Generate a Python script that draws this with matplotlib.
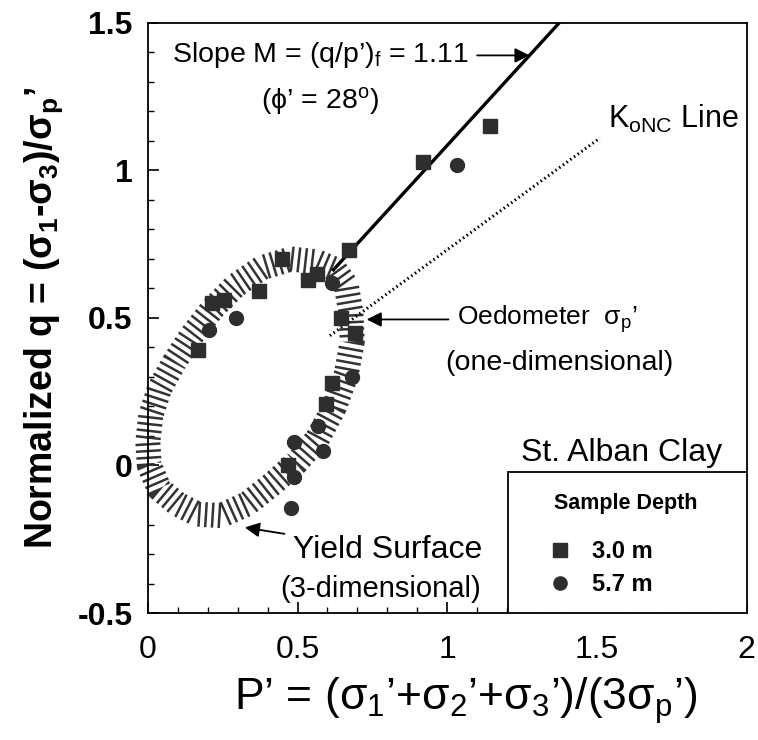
import numpy as np
import matplotlib
matplotlib.use('Agg')
import matplotlib.pyplot as plt
from matplotlib.ticker import MultipleLocator
from matplotlib.patches import Rectangle

plt.rcParams['font.family'] = ['Liberation Sans', 'DejaVu Sans']
plt.rcParams['mathtext.fontset'] = 'custom'
plt.rcParams['mathtext.rm'] = 'Liberation Sans'
plt.rcParams['mathtext.it'] = 'Liberation Sans:italic'
plt.rcParams['mathtext.bf'] = 'Liberation Sans:bold'

# superficie de fluencia
yield_p = [0.478, 0.566, 0.624, 0.663, 0.678, 0.683, 0.663, 0.624, 0.566, 0.497, 0.419, 0.332,
           0.244, 0.166, 0.098, 0.039, 0.005, 0.0, 0.01, 0.039, 0.088, 0.146, 0.215, 0.293, 0.38, 0.478]
yield_q = [0.70, 0.69, 0.665, 0.61, 0.52, 0.42, 0.31, 0.20, 0.09, 0.01, -0.06, -0.13,
           -0.17, -0.165, -0.13, -0.08, 0.0, 0.08, 0.17, 0.26, 0.35, 0.44, 0.53, 0.61, 0.67, 0.70]

# muestras 3.0 m (cuadrados)
sq_p = [0.166, 0.215, 0.254, 0.37, 0.449, 0.536, 0.566, 0.673, 0.644, 0.692, 0.614, 0.595, 0.468, 0.92, 1.144]
sq_q = [0.39, 0.55, 0.56, 0.59, 0.70, 0.63, 0.65, 0.73, 0.50, 0.45, 0.28, 0.21, 0.00, 1.03, 1.15]

# muestras 5.7 m (circulos)
ci_p = [0.293, 0.205, 0.614, 0.683, 0.57, 0.488, 0.585, 0.488, 0.478, 1.032]
ci_q = [0.50, 0.46, 0.62, 0.30, 0.135, 0.08, 0.05, -0.04, -0.145, 1.02]

# linea de falla (pendiente M) y linea KoNC
M = 1.11
falla_p = [0.62, 1.42]
falla_q = [M * p - 0.025 for p in falla_p]
konc_p = [0.608, 1.51]
konc_q = [0.44, 1.11]

fig = plt.figure(figsize=(7.58, 7.40), dpi=100)
ax = fig.add_axes([0.195, 0.1716, 0.790, 0.7974])

ax.plot(yield_p, yield_q, color='#333333', lw=18, dashes=(0.1, 0.17),
        dash_capstyle='butt', solid_capstyle='butt', clip_on=False, zorder=2)

ax.plot(falla_p, falla_q, color='black', lw=2.4, zorder=3)
ax.plot(konc_p, konc_q, color='black', lw=2.2, linestyle=(0, (0.5, 1.0)), zorder=3)

ax.plot(sq_p, sq_q, 's', color='#2e2e2e', markersize=10, linestyle='none',
        label='3.0 m', zorder=4)
ax.plot(ci_p, ci_q, 'o', color='#2e2e2e', markersize=10, linestyle='none',
        label='5.7 m', zorder=4)

ax.set_xlim(0, 2)
ax.set_ylim(-0.5, 1.5)
ax.xaxis.set_minor_locator(MultipleLocator(0.1))
ax.yaxis.set_minor_locator(MultipleLocator(0.1))
ax.set_xticks([0, 0.5, 1, 1.5, 2])
ax.set_xticklabels(['0', '0.5', '1', '1.5', '2'], fontsize=23)
ax.set_yticks([-0.5, 0, 0.5, 1, 1.5])
ax.set_yticklabels(['-0.5', '0', '0.5', '1', '1.5'], fontsize=23, fontweight='bold')
ax.tick_params(which='major', direction='in', length=8, width=1.2)
ax.tick_params(which='minor', direction='in', length=4.5, width=1.0)
ax.tick_params(axis='x', pad=16)
ax.tick_params(axis='y', pad=11)
for s in ax.spines.values():
    s.set_linewidth(1.3)

ax.set_xlabel('P\u2019 = (σ$_\\mathregular{1}$\u2019+σ$_\\mathregular{2}$\u2019+σ$_\\mathregular{3}$\u2019)/(3σ$_\\mathregular{p}$\u2019)',
              fontsize=32, labelpad=7, x=0.53)
ax.set_ylabel('Normalized q = (σ$_\\mathregular{1}$-σ$_\\mathregular{3}$)/σ$_\\mathregular{p}$\u2019',
              fontsize=27, fontweight='bold', labelpad=9)

# anotaciones
flecha = dict(arrowstyle='-|>', color='black', lw=1.3, shrinkA=4, shrinkB=0, mutation_scale=22)
ax.annotate('Slope M = (q/p\u2019)$_\\mathregular{f}$ = 1.11', xy=(1.275, 1.39), xytext=(0.08, 1.39),
            fontsize=20.5, va='center', ha='left', arrowprops=flecha)
ax.text(0.574, 1.237, '(ϕ\u2019 = 28$^\\mathregular{o}$)', fontsize=20.5, ha='center', va='center')
ax.text(1.536, 1.176, 'K$_\\mathregular{oNC}$ Line', fontsize=22, ha='left', va='center')
ax.annotate('Oedometer  σ$_\\mathregular{p}$\u2019', xy=(0.731, 0.495), xytext=(1.032, 0.495),
            fontsize=19, va='center', ha='left', arrowprops=flecha)
ax.text(1.376, 0.346, '(one-dimensional)', fontsize=20.5, ha='center', va='center')
ax.annotate('Yield Surface', xy=(0.324, -0.21), xytext=(0.484, -0.288),
            fontsize=23, va='center', ha='left', arrowprops=flecha)
ax.text(0.441, -0.417, '(3-dimensional)', fontsize=21, ha='left', va='center')
ax.text(1.583, 0.044, 'St. Alban Clay', fontsize=23, ha='center', va='center')

# recuadro de leyenda
ax.add_patch(Rectangle((0.601, 0.0), 0.399, 0.239, transform=ax.transAxes,
                       facecolor='white', edgecolor='black', lw=1.3, zorder=5))
ax.text(1.596, -0.129, 'Sample Depth', fontsize=15.5, fontweight='bold',
        ha='center', va='center', zorder=6)
leg = ax.legend(loc='upper left', bbox_to_anchor=(0.672, 0.123), borderaxespad=0,
                prop={'size': 17, 'weight': 'bold'},
                frameon=False, handlelength=0.8, handletextpad=0.95,
                borderpad=0.0, labelspacing=0.4, markerscale=0.95)
leg.set_zorder(6)

fig.savefig('out.png', dpi=100)
